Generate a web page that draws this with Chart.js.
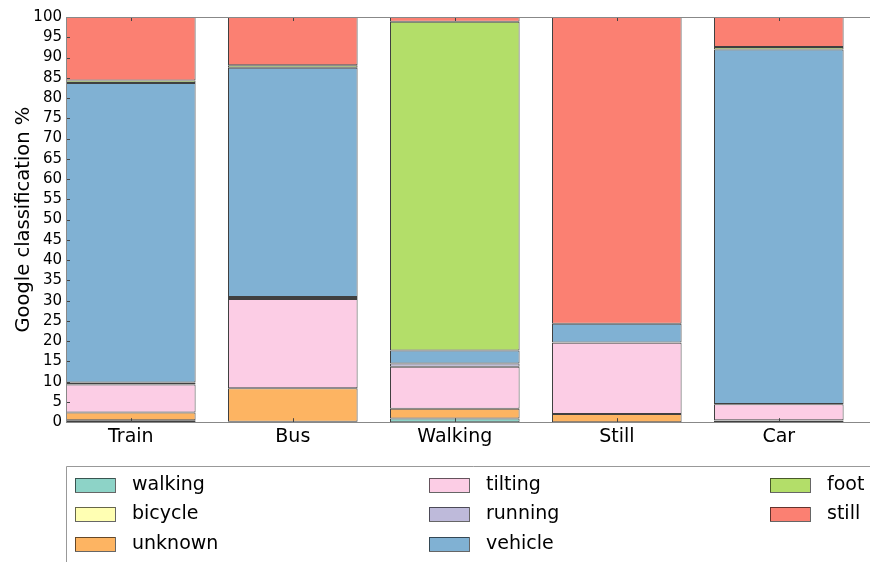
<!DOCTYPE html>
<html>
<head>
<meta charset="utf-8">
<script src="https://cdn.jsdelivr.net/npm/chart.js@4"></script>
<style>
  html, body { margin: 0; padding: 0; overflow: hidden; background: #fff; }
  #wrap { position: absolute; left: 0; top: 0; width: 880px; height: 562px; }
</style>
</head>
<body>
<div id="wrap"><canvas id="chart"></canvas></div>
<script>
// categories along x
const categories = ['Train', 'Bus', 'Walking', 'Still', 'Car'];

// percent per class (Train, Bus, Walking, Still, Car)
const walking = [0.3, 0.0, 0.9, 0.0, 0.0];
const bicycle = [0.2, 0.1, 0.0, 0.0, 0.4];
const unknown = [1.9, 8.3, 2.4, 2.0, 0.1];
const tilting = [6.9, 22.0, 10.4, 17.6, 3.9];
const running = [0.5, 0.5, 0.8, 0.1, 0.1];
const vehicle = [73.9, 56.6, 3.2, 4.6, 87.5];
const foot    = [0.6, 0.6, 81.1, 0.0, 0.6];
const still   = [15.7, 11.9, 1.2, 75.7, 7.4];

const yTicks = [0, 5, 10, 15, 20, 25, 30, 35, 40, 45, 50, 55, 60, 65, 70, 75, 80, 85, 90, 95, 100];

const seriesNames = ['walking', 'bicycle', 'unknown', 'tilting', 'running', 'vehicle', 'foot', 'still'];
const seriesValues = [walking, bicycle, unknown, tilting, running, vehicle, foot, still];
const seriesColors = ['#8dd3c7', '#ffffb3', '#fdb462', '#fccde5', '#bebada', '#80b1d3', '#b3de69', '#fb8072'];

Chart.defaults.font.family = '"DejaVu Sans", sans-serif';
Chart.defaults.color = '#000';

var datasets = [];
for (let k = 0; k < seriesNames.length; k++) {
  datasets.push({
    label: seriesNames[k],
    data: seriesValues[k].map((v, i) => ({ x: i + 0.4, y: v })),
    backgroundColor: seriesColors[k],
    borderColor: 'rgba(0,0,0,0.75)',
    borderWidth: 1,
    borderSkipped: false,
    barPercentage: 0.8,
    categoryPercentage: 1.0
  });
}

// spines + inward ticks, matplotlib style
const frame = {
  id: 'frame',
  afterDatasetsDraw(chart) {
    const { ctx, chartArea: a, scales: { x, y } } = chart;
    ctx.save();
    ctx.lineWidth = 1;
    ctx.strokeStyle = '#444';
    ctx.beginPath();
    yTicks.forEach(v => {
      const py = Math.round(y.getPixelForValue(v)) + 0.5;
      ctx.moveTo(a.left, py); ctx.lineTo(a.left + 4, py);
      ctx.moveTo(a.right, py); ctx.lineTo(a.right - 4, py);
    });
    categories.forEach((c, i) => {
      const px = Math.round(x.getPixelForValue(i + 0.4)) + 0.5;
      ctx.moveTo(px, a.top); ctx.lineTo(px, a.top + 4);
      ctx.moveTo(px, a.bottom); ctx.lineTo(px, a.bottom - 4);
    });
    ctx.stroke();
    ctx.strokeStyle = '#888';
    ctx.strokeRect(Math.round(a.left) + 0.5, Math.round(a.top) + 0.5,
      Math.round(a.right - a.left), Math.round(a.bottom - a.top));
    ctx.restore();
  }
};

// legend below the plot, three columns filled top to bottom
const legendBox = {
  id: 'legendBox',
  afterDraw(chart) {
    const ctx = chart.ctx;
    const top = 466, left = 66;
    const colX = [75, 429, 770];
    const rowY = [485, 514, 544];
    ctx.save();
    ctx.lineWidth = 1;
    ctx.strokeStyle = '#999';
    ctx.beginPath();
    ctx.moveTo(left + 0.5, chart.height);
    ctx.lineTo(left + 0.5, top + 0.5);
    ctx.lineTo(chart.width, top + 0.5);
    ctx.stroke();
    ctx.font = '19px "DejaVu Sans"';
    ctx.textBaseline = 'middle';
    seriesNames.forEach((name, k) => {
      const cx = colX[Math.floor(k / 3)];
      const cy = rowY[k % 3];
      ctx.fillStyle = seriesColors[k];
      ctx.fillRect(cx, cy - 7, 40, 14);
      ctx.strokeStyle = 'rgba(0,0,0,0.6)';
      ctx.strokeRect(cx + 0.5, cy - 6.5, 40, 14);
      ctx.fillStyle = '#000';
      ctx.fillText(name, cx + 57, cy);
    });
    ctx.restore();
  }
};

new Chart(document.getElementById('chart'), {
  type: 'bar',
  data: { datasets: datasets },
  options: {
    responsive: true,
    maintainAspectRatio: false,
    animation: false,
    layout: { padding: { top: 17, right: 4, bottom: 111, left: 0 } },
    plugins: { legend: { display: false }, tooltip: { enabled: false } },
    scales: {
      x: {
        type: 'linear',
        stacked: true,
        offset: false,
        min: 0,
        max: 5,
        grid: { display: false, drawTicks: false, offset: false },
        border: { display: false },
        afterBuildTicks: s => { s.ticks = categories.map((c, i) => ({ value: i + 0.4 })); },
        ticks: {
          font: { size: 19 },
          padding: 3,
          autoSkip: false,
          maxRotation: 0,
          callback: (v, i) => categories[i]
        }
      },
      y: {
        stacked: true,
        min: 0,
        max: 100,
        grid: { display: false, drawTicks: false },
        border: { display: false },
        afterBuildTicks: s => { s.ticks = yTicks.map(v => ({ value: v })); },
        ticks: { font: { size: 15 }, padding: 4, autoSkip: false },
        title: {
          display: true,
          text: 'Google classification %',
          font: { size: 19.5 },
          padding: { top: 12 }
        },
        afterFit: s => { s.width = 66; }
      }
    }
  },
  plugins: [frame, legendBox]
});
</script>
</body>
</html>
